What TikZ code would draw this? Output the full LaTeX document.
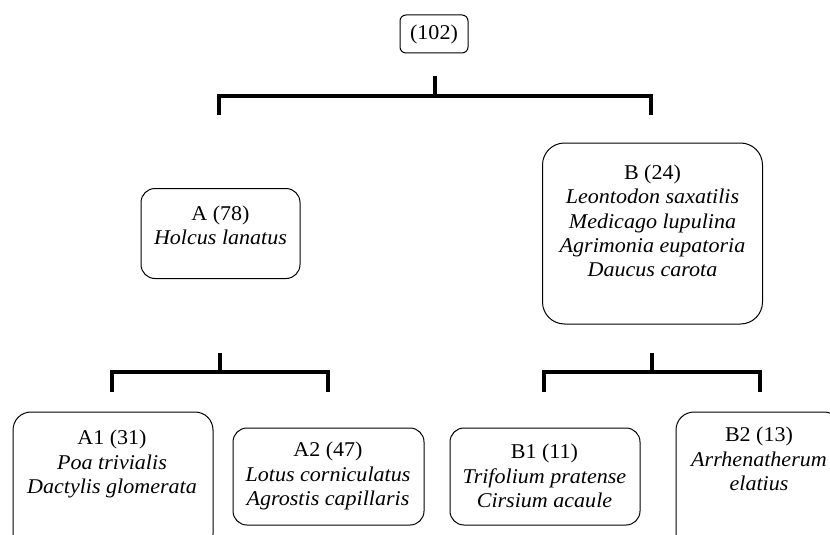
\documentclass[tikz,border=0pt]{standalone}
\usepackage{fontspec}
\setmainfont{Liberation Serif}[FakeStretch=1.05]
\begin{document}
\begin{tikzpicture}[x=1pt,y=-1pt,
  box/.style={draw,line width=1pt,rounded corners=14pt,inner sep=0pt},
  txt/.style={align=center,inner sep=0pt,font=\fontsize{21}{24.2}\selectfont},
  bracket/.style={line width=3.2pt}]
\useasboundingbox (0,0) rectangle (830,535);
\clip (0,0) rectangle (830,535);
% boxes
\node[box,rounded corners=6pt,minimum width=68pt,minimum height=38pt] (top) at (434,34) {};
\node[box,minimum width=159pt,minimum height=90pt] (A) at (220.5,233.5) {};
\node[box,rounded corners=22pt,minimum width=220pt,minimum height=181pt] (B) at (652.5,233.5) {};
\node[box,rounded corners=18pt,minimum width=200pt,minimum height=140pt] (A1) at (113,482) {};
\node[box,minimum width=191pt,minimum height=97pt] (A2) at (328.5,476.5) {};
\node[box,minimum width=190pt,minimum height=97pt] (B1) at (545,476.5) {};
\node[box,rounded corners=18pt,minimum width=166pt,minimum height=140pt] (B2) at (759,482) {};
% texts
\node[txt] (ttop) at (434,34) {(102)};
\node[txt] (tA) at (220.5,225) {A (78)\\\textit{Holcus lanatus}};
\node[txt] (tB) at (652.5,221) {B (24)\\\textit{Leontodon saxatilis}\\\textit{Medicago lupulina}\\\textit{Agrimonia eupatoria}\\\textit{Daucus carota}};
\node[txt] (tA1) at (112,464) {A1 (31)\\\textit{Poa trivialis}\\\textit{Dactylis glomerata}};
\node[txt] (tA2) at (328,476) {A2 (47)\\\textit{Lotus corniculatus}\\\textit{Agrostis capillaris}};
\node[txt] (tB1) at (544.5,476) {B1 (11)\\\textit{Trifolium pratense}\\\textit{Cirsium acaule}};
\node[txt] (tB2) at (759,459) {B2 (13)\\\textit{Arrhenatherum}\\\textit{elatius}};
% bracket coordinates
\coordinate (s0) at (435,76);
\coordinate (b0) at (435,96);
\coordinate (l0) at (219,115);
\coordinate (r0) at (651,115);
\coordinate (sA) at (220,353);
\coordinate (bA) at (220,372);
\coordinate (lA) at (112,392);
\coordinate (rA) at (328,392);
\coordinate (sB) at (652,353);
\coordinate (bB) at (652,372);
\coordinate (lB) at (544,392);
\coordinate (rB) at (760,392);
% brackets
\draw[bracket] (s0) -- (b0);
\draw[bracket] (l0) |- (b0) -| (r0);
\draw[bracket] (sA) -- (bA);
\draw[bracket] (lA) |- (bA) -| (rA);
\draw[bracket] (sB) -- (bB);
\draw[bracket] (lB) |- (bB) -| (rB);
\end{tikzpicture}
\end{document}
